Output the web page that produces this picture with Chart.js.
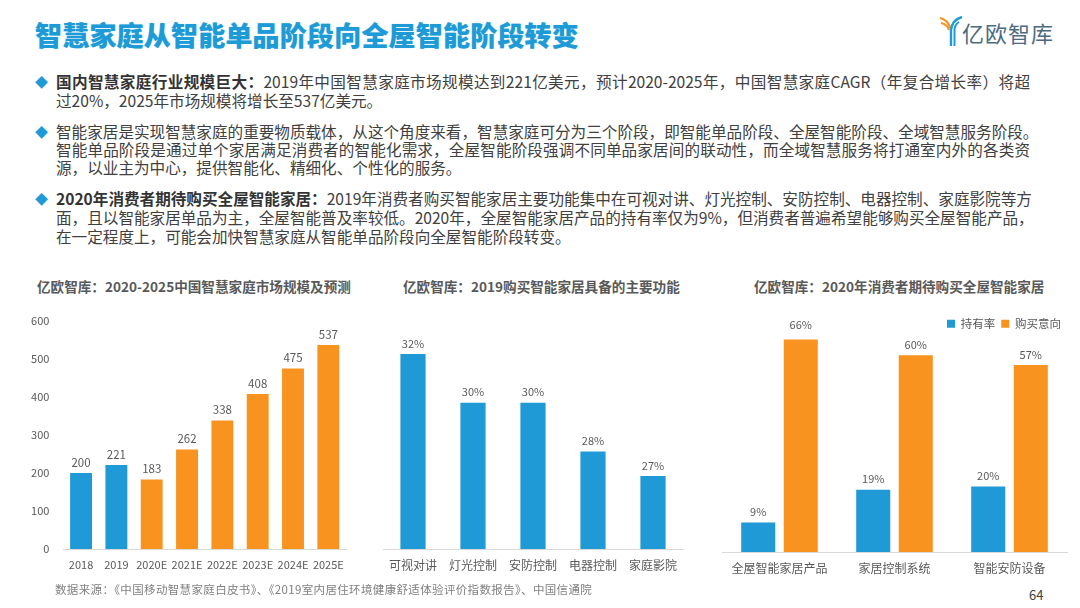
<!DOCTYPE html>
<html>
<head>
<meta charset="utf-8">
<script src="https://cdn.jsdelivr.net/npm/chart.js@4/dist/chart.umd.min.js"></script>
<style>
  html, body { margin:0; padding:0; background:#fff; }
  body { width:1080px; height:608px; position:relative; overflow:hidden;
         font-family:"Noto Sans CJK SC","Noto Sans",sans-serif; color:#404040; }
  .abs { position:absolute; white-space:nowrap; }
  #title { left:35px; top:15px; font-size:27px; font-weight:900; color:#1e9bd7; letter-spacing:0.2px;
           text-shadow:0 0 1px #8fd0ee; }
  #logo { left:938px; top:14px; }
  #logoText { left:962px; top:16px; font-size:22px; color:#4d6b80; letter-spacing:1px; }
  .line { position:absolute; left:56px; font-size:15.6px; line-height:19px; color:#404040; white-space:nowrap; }
  .full { width:974px; text-align:justify; text-align-last:justify; }
  .bul { position:absolute; left:35px; font-size:13px; color:#1e9bd7; }
  b { color:#333; font-weight:700; }
  .ctitle { position:absolute; font-size:13.6px; font-weight:700; color:#595959; white-space:nowrap; }
  canvas { position:absolute; }
  #src { left:55px; top:581px; font-size:11.5px; color:#808080; letter-spacing:0.35px; }
  #page { left:1029px; top:585px; font-size:13px; color:#404040; }
</style>
</head>
<body>
<div id="title" class="abs">智慧家庭从智能单品阶段向全屋智能阶段转变</div>
<svg id="logo" class="abs" width="26" height="34" viewBox="0 0 26 34">
  <path d="M2 4 Q10 6 12 14" stroke="#f7931e" stroke-width="2.2" fill="none"/>
  <path d="M3 9 Q9 10 11 16" stroke="#f7931e" stroke-width="2.2" fill="none"/>
  <path d="M24 3 Q14 6 13 16 L13 32" stroke="#1e9bd7" stroke-width="2.4" fill="none"/>
  <path d="M21 8 Q16 11 16.5 18 L16.5 32" stroke="#1e9bd7" stroke-width="2" fill="none"/>
</svg>
<div id="logoText" class="abs">亿欧智库</div>

<div class="bul" style="top:72px">◆</div>
<div class="line full" style="top:72px"><b>国内智慧家庭行业规模巨大：</b>2019年中国智慧家庭市场规模达到221亿美元，预计2020-2025年，中国智慧家庭CAGR（年复合增长率）将超</div>
<div class="line" style="top:91px">过20%，2025年市场规模将增长至537亿美元。</div>

<div class="bul" style="top:122px">◆</div>
<div class="line full" style="top:122px">智能家居是实现智慧家庭的重要物质载体，从这个角度来看，智慧家庭可分为三个阶段，即智能单品阶段、全屋智能阶段、全域智慧服务阶段。</div>
<div class="line full" style="top:140px">智能单品阶段是通过单个家居满足消费者的智能化需求，全屋智能阶段强调不同单品家居间的联动性，而全域智慧服务将打通室内外的各类资</div>
<div class="line" style="top:158px">源，以业主为中心，提供智能化、精细化、个性化的服务。</div>

<div class="bul" style="top:189px">◆</div>
<div class="line full" style="top:189px"><b>2020年消费者期待购买全屋智能家居：</b>2019年消费者购买智能家居主要功能集中在可视对讲、灯光控制、安防控制、电器控制、家庭影院等方</div>
<div class="line full" style="top:208px">面，且以智能家居单品为主，全屋智能普及率较低。2020年，全屋智能家居产品的持有率仅为9%，但消费者普遍希望能够购买全屋智能产品，</div>
<div class="line" style="top:227px">在一定程度上，可能会加快智慧家庭从智能单品阶段向全屋智能阶段转变。</div>

<div class="ctitle" style="left:37px; top:276px">亿欧智库：2020-2025中国智慧家庭市场规模及预测</div>
<div class="ctitle" style="left:403px; top:276px">亿欧智库：2019购买智能家居具备的主要功能</div>
<div class="ctitle" style="left:754px; top:276px">亿欧智库：2020年消费者期待购买全屋智能家居</div>

<canvas id="c1" width="330" height="280" style="left:20px; top:300px"></canvas>
<canvas id="c2" width="330" height="282" style="left:370px; top:300px"></canvas>
<canvas id="c3" width="370" height="272" style="left:710px; top:312px"></canvas>

<div id="src" class="abs">数据来源：《中国移动智慧家庭白皮书》、《2019室内居住环境健康舒适体验评价指数报告》、中国信通院</div>
<div id="page" class="abs">64</div>

<script>
const BLUE = '#1f9ad6';
const ORANGE = '#f7931e';
const FONT = '"Noto Sans CJK SC","Noto Sans",sans-serif';

// 图1：市场规模（亿美元）
const marketYears  = ['2018','2019','2020E','2021E','2022E','2023E','2024E','2025E'];
const marketValues = [200, 221, 183, 262, 338, 408, 475, 537];
const marketColors = marketYears.map(y => y.endsWith('E') ? ORANGE : BLUE);

// 图2：主要功能
const funcLabels = ['可视对讲','灯光控制','安防控制','电器控制','家庭影院'];
const funcValues = [32, 30, 30, 28, 27];

// 图3：持有率 / 购买意向
const wholeLabels = ['全屋智能家居产品','家居控制系统','智能安防设备'];
const ownRate     = [9, 19, 20];
const buyIntent   = [66, 60, 57];

// 柱顶数值
const valueLabels = (suffix, size) => ({
  id: 'valueLabels',
  afterDatasetsDraw(chart) {
    const ctx = chart.ctx;
    ctx.save();
    ctx.font = `${size}px ${FONT}`;
    ctx.fillStyle = '#595959';
    ctx.textAlign = 'center';
    ctx.textBaseline = 'bottom';
    chart.data.datasets.forEach((ds, i) => {
      chart.getDatasetMeta(i).data.forEach((bar, j) => {
        ctx.fillText(ds.data[j] + suffix, bar.x, bar.y - 5);
      });
    });
    ctx.restore();
  }
});

// x 轴：高度固定，底线浅灰
const xAxis = (h, size) => ({
  grid: { display: false },
  border: { display: true, color: '#d9d9d9', width: 1 },
  ticks: { color: '#595959', font: { size, family: FONT }, padding: 1, maxRotation: 0, autoSkip: false },
  afterFit: s => { s.height = h; }
});

Chart.defaults.font.family = FONT;
Chart.defaults.animation = false;

new Chart(document.getElementById('c1'), {
  type: 'bar',
  data: { labels: marketYears, datasets: [{ data: marketValues, backgroundColor: marketColors,
          categoryPercentage: 0.62, barPercentage: 1 }] },
  options: {
    responsive: false,
    layout: { padding: { top: 21, right: 4, left: 0, bottom: 0 } },
    plugins: { legend: { display: false }, tooltip: { enabled: false } },
    scales: {
      x: xAxis(31, 11),
      y: { min: 0, max: 600, grid: { display: false }, border: { display: false },
           ticks: { stepSize: 100, color: '#595959', font: { size: 11 }, padding: 6 },
           afterFit: s => { s.width = 43.4; } }
    }
  },
  plugins: [valueLabels('', 11.5)]
});

new Chart(document.getElementById('c2'), {
  type: 'bar',
  data: { labels: funcLabels, datasets: [{ data: funcValues, backgroundColor: BLUE,
          categoryPercentage: 0.42, barPercentage: 1 }] },
  options: {
    responsive: false,
    layout: { padding: { top: 15, left: 13, right: 17, bottom: 0 } },
    plugins: { legend: { display: false }, tooltip: { enabled: false } },
    scales: {
      x: xAxis(33, 12),
      y: { display: false, min: 24, max: 33.6 }
    }
  },
  plugins: [valueLabels('%', 11)]
});

new Chart(document.getElementById('c3'), {
  type: 'bar',
  data: { labels: wholeLabels, datasets: [
    { label: '持有率', data: ownRate, backgroundColor: BLUE, categoryPercentage: 0.74, barPercentage: 0.8 },
    { label: '购买意向', data: buyIntent, backgroundColor: ORANGE, categoryPercentage: 0.74, barPercentage: 0.8 }
  ] },
  options: {
    responsive: false,
    layout: { padding: { top: 0, left: 12, right: 13, bottom: 0 } },
    plugins: {
      legend: { position: 'top', align: 'end',
        labels: { boxWidth: 8, boxHeight: 8, padding: 6, color: '#595959', font: { size: 11.5 } } },
      tooltip: { enabled: false }
    },
    scales: {
      x: xAxis(32, 12),
      y: { display: false, min: 0, max: 64.8 }
    }
  },
  plugins: [valueLabels('%', 11)]
});
</script>
</body>
</html>
